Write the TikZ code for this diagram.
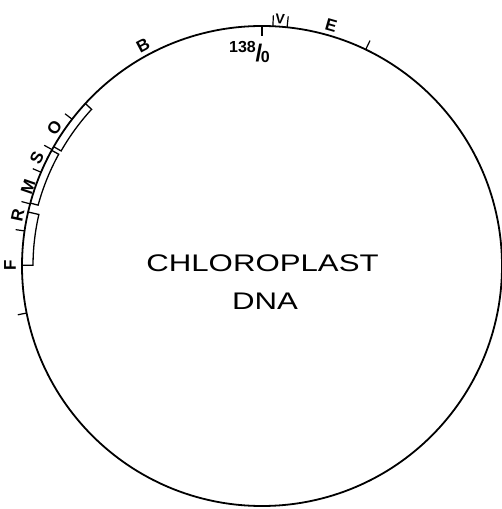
\documentclass[tikz,border=0pt]{standalone}
\usepackage{fontspec}
\setmainfont{Liberation Sans}
\begin{document}
\begin{tikzpicture}[x=1pt,y=1pt,
  ring/.style={line width=1.8pt},
  tk/.style={line width=1.2pt},
  seg/.style={line width=1.3pt},
  lbl/.style={font=\bfseries\fontsize{17}{17}\selectfont, inner sep=0pt},
  smalllbl/.style={font=\bfseries\fontsize{14}{14}\selectfont, inner sep=0pt},
  title/.style={font=\fontsize{24}{24}\selectfont, inner sep=0pt}]
\useasboundingbox (0,0) rectangle (501,509);
\begin{scope}[shift={(262,243)}]
  % the circle
  \draw[ring] (0,0) circle (240);
  % origin tick (inward)
  \draw[tk] (90:240) -- (90:230);
  % outward ticks
  \draw[tk] (87.4:240) -- (87.4:251);
  \draw[tk] (84.0:240) -- (84.0:251);
  \draw[tk] (64.4:240) -- (64.4:250);
  \foreach \a in {142.3,151,157,165,171.6,191.3}
    \draw[tk] (\a:240) -- (\a:249);
  % boxes inside the circle
  \draw[seg] (137.4:240) -- (137.4:231.5)
     arc[start angle=137.4, end angle=150.2, radius=231.5] -- (150.2:240);
  \draw[seg] (151.2:240) -- (151.2:232)
     arc[start angle=151.2, end angle=164.8, radius=232] -- (164.8:240);
  \draw[seg] (167.0:240) -- (167.0:229)
     arc[start angle=167.0, end angle=179.8, radius=229] -- (179.8:240);
  % labels
  \node[font=\bfseries\fontsize{16}{16}\selectfont, inner sep=0pt, anchor=base west] (n138) at (-33,213)
    {138\kern-0.3pt\raisebox{-8.5pt}{\fontsize{24}{24}\selectfont /}\kern-1.5pt\raisebox{-10pt}{0}};
  \node[smalllbl, rotate=-4] (V) at (85.8:247.7) {V};
  \node[lbl, rotate=-16] (E) at (74.0:250.7) {E};
  \node[lbl, rotate=28] (B) at (118.3:251) {B};
  \node[lbl, rotate=56] (O) at (146.3:249.5) {O};
  \node[lbl, rotate=64] (S) at (154.4:249.6) {S};
  \node[lbl, rotate=71] (M) at (161.2:247) {M};
  \node[lbl, rotate=78] (R) at (168.2:249.5) {R};
  \node[lbl, rotate=90] (F) at (179.8:252) {F};
\end{scope}
\node[title] (chl) at (262.5,245.5) {\scalebox{1.3}[1]{CHLOROPLAST}};
\node[title] (dna) at (265,208) {\scalebox{1.3}[1]{DNA}};
\end{tikzpicture}
\end{document}
